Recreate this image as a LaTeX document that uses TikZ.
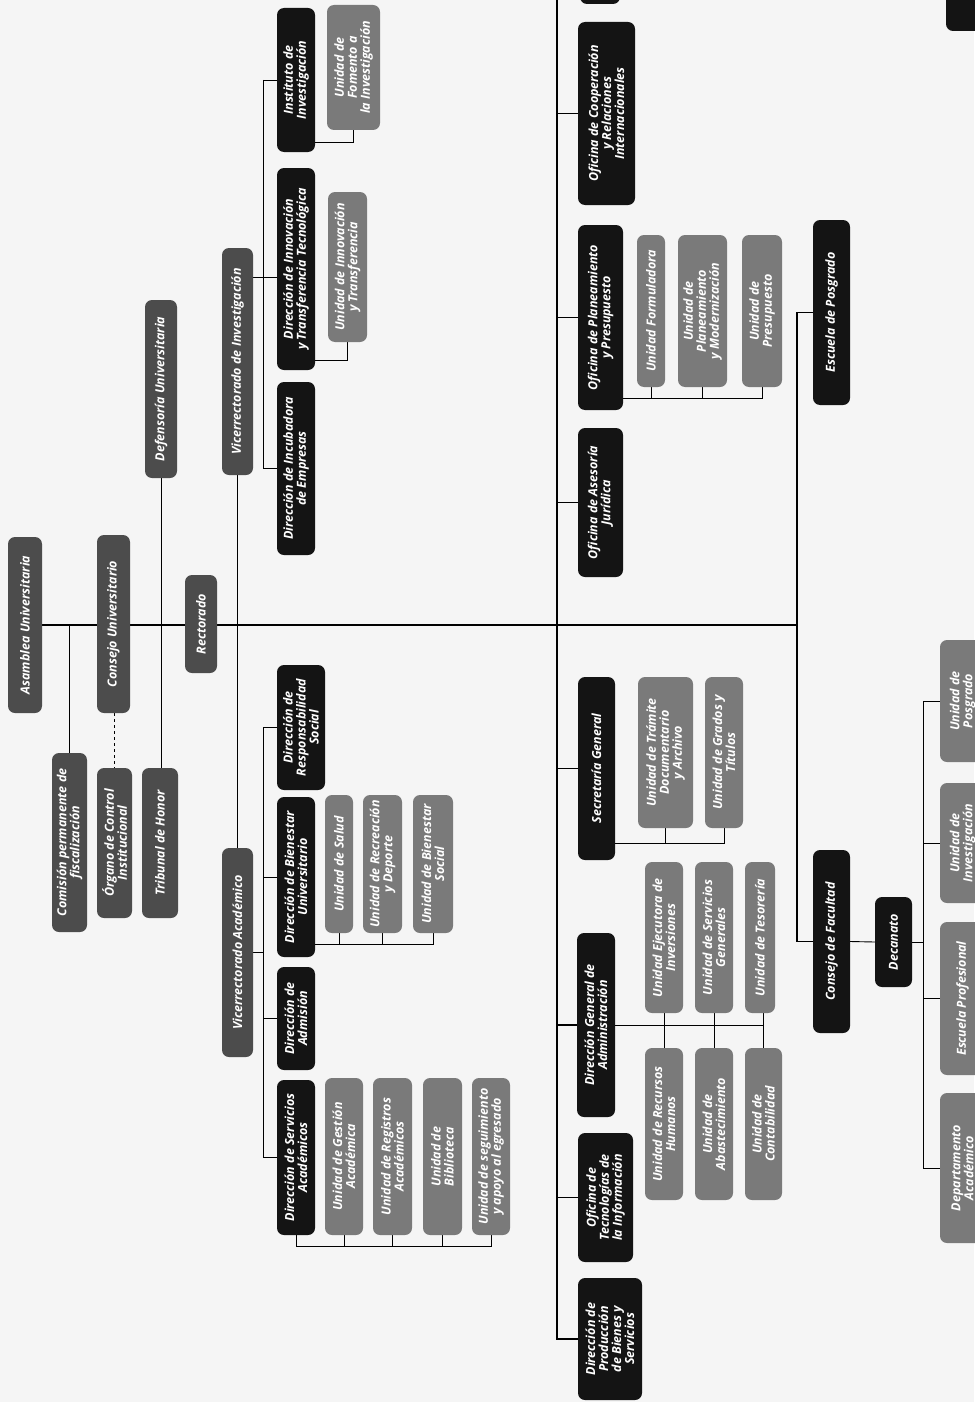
\documentclass[tikz,border=0pt]{standalone}
\usepackage{fontspec}
\setmainfont{Open Sans}
\usetikzlibrary{calc}
\pgfdeclarelayer{bg}
\pgfsetlayers{bg,main}
\newcommand\orgbox[7]{%
  \pgfmathsetmacro\obcx{(#3+#5)/2}%
  \pgfmathsetmacro\obcy{(#4+#6)/2}%
  \pgfmathsetmacro\obww{#6-#4}%
  \pgfmathsetmacro\obhh{#5-#3}%
  \node[#2,rotate=90,minimum width=\obww pt,minimum height=\obhh pt] (#1) at (\obcx,\obcy) {#7};}
\tikzset{
  base/.style={rounded corners=7pt,text=white,align=center,inner sep=1pt,
    font=\fontsize{12.5}{13}\selectfont\bfseries\itshape},
  blk/.style={base,fill=black!92},
  dgr/.style={base,fill=black!70},
  mgr/.style={base,fill=black!52},
  spine/.style={line width=1.3pt,black},
  link/.style={line width=0.9pt,black}
}
\begin{document}
\begin{tikzpicture}[x=1pt,y=-1pt]
\useasboundingbox (0,0) rectangle (974,1402);
% top section
\orgbox{instituto}{blk}{277}{8}{315}{152}{Instituto de\\Investigación}
\orgbox{innov}{blk}{277}{168}{315}{370}{Dirección de Innovación\\y Transferencia Tecnológica}
\orgbox{incub}{blk}{277}{382}{315}{555}{Dirección de Incubadora\\de Empresas}
\orgbox{vri}{dgr}{222}{248}{253}{475}{Vicerrectorado de Investigación}
\orgbox{defen}{dgr}{145}{300}{177}{478}{Defensoría Universitaria}
\orgbox{asamb}{dgr}{8}{537}{42}{713}{Asamblea Universitaria}
\orgbox{consejo}{dgr}{97}{535}{130}{713}{Consejo Universitario}
\orgbox{rect}{dgr}{185}{575}{217}{673}{Rectorado}
\orgbox{ufom}{mgr}{327}{5}{380}{130}{Unidad de\\Fomento a\\la Investigación}
\orgbox{uinn}{mgr}{328}{192}{367}{342}{Unidad de Innovación\\y Transferencia}
\orgbox{resp}{blk}{277}{665}{325}{790}{Dirección de\\Responsabilidad\\Social}
\orgbox{comis}{dgr}{52}{753}{87}{932}{Comisión permanente de\\fiscalización}
\orgbox{organo}{dgr}{97}{768}{132}{918}{Órgano de Control\\Institucional}
\orgbox{trib}{dgr}{142}{768}{178}{918}{Tribunal de Honor}
\orgbox{vra}{dgr}{222}{848}{253}{1057}{Vicerrectorado Académico}
\orgbox{bien}{blk}{277}{797}{315}{957}{Dirección de Bienestar\\Universitario}
\orgbox{adm}{blk}{277}{967}{315}{1070}{Dirección de\\Admisión}
\orgbox{serv}{blk}{277}{1080}{315}{1235}{Dirección de Servicios\\Académicos}
\orgbox{usal}{mgr}{325}{795}{353}{933}{Unidad de Salud}
\orgbox{urec}{mgr}{363}{795}{402}{933}{Unidad de Recreación\\y Deporte}
\orgbox{ubs}{mgr}{413}{795}{453}{933}{Unidad de Bienestar\\Social}
\orgbox{ugest}{mgr}{325}{1078}{363}{1235}{Unidad de Gestión\\Académica}
\orgbox{ureg}{mgr}{373}{1078}{412}{1235}{Unidad de Registros\\Académicos}
\orgbox{ubib}{mgr}{423}{1078}{462}{1235}{Unidad de\\Biblioteca}
\orgbox{useg}{mgr}{472}{1078}{510}{1235}{Unidad de seguimiento\\y apoyo al egresado}
% right section
\fill[black!92,rounded corners=7pt] (580,-40) rectangle (620,4);
\fill[black!92,rounded corners=7pt] (946,-40) rectangle (1000,31);
\orgbox{coop}{blk}{578}{22}{635}{205}{Oficina de Cooperación\\y Relaciones\\Internacionales}
\orgbox{plan}{blk}{578}{225}{623}{410}{Oficina de Planeamiento\\y Presupuesto}
\orgbox{uform}{mgr}{637}{235}{665}{387}{Unidad Formuladora}
\orgbox{uplan}{mgr}{678}{235}{727}{387}{Unidad de\\Planeamiento\\y Modernización}
\orgbox{upres}{mgr}{742}{235}{782}{387}{Unidad de\\Presupuesto}
\orgbox{posg}{blk}{813}{220}{850}{405}{Escuela de Posgrado}
\orgbox{asesor}{blk}{578}{428}{623}{577}{Oficina de Asesoría\\Jurídica}
\orgbox{secg}{blk}{578}{677}{615}{860}{Secretaría General}
\orgbox{utram}{mgr}{638}{677}{693}{828}{Unidad de Trámite\\Documentario\\y Archivo}
\orgbox{ugrad}{mgr}{705}{677}{743}{828}{Unidad de Grados y\\Títulos}
\orgbox{dga}{blk}{577}{933}{615}{1117}{Dirección General de\\Administración}
\orgbox{ueje}{mgr}{645}{862}{683}{1013}{Unidad Ejecutora de\\Inversiones}
\orgbox{userv}{mgr}{695}{862}{733}{1013}{Unidad de Servicios\\Generales}
\orgbox{utes}{mgr}{745}{862}{775}{1013}{Unidad de Tesorería}
\orgbox{urrhh}{mgr}{645}{1048}{683}{1200}{Unidad de Recursos\\Humanos}
\orgbox{uabas}{mgr}{695}{1048}{733}{1200}{Unidad de\\Abastecimiento}
\orgbox{ucont}{mgr}{745}{1048}{782}{1200}{Unidad de\\Contabilidad}
\orgbox{otic}{blk}{578}{1133}{633}{1262}{Oficina de\\Tecnologías de\\la Información}
\orgbox{prod}{blk}{578}{1278}{642}{1400}{Dirección de\\Producción\\de Bienes y\\Servicios}
\orgbox{cfac}{blk}{813}{850}{850}{1033}{Consejo de Facultad}
\orgbox{dec}{blk}{875}{897}{912}{987}{Decanato}
\orgbox{uposg}{mgr}{940}{640}{985}{762}{Unidad de\\Posgrado}
\orgbox{uinv}{mgr}{940}{783}{985}{903}{Unidad de\\Investigación}
\orgbox{eprof}{mgr}{940}{922}{985}{1075}{Escuela Profesional}
\orgbox{dept}{mgr}{940}{1093}{985}{1243}{Departamento\\Académico}
\begin{pgfonlayer}{bg}
\fill[black!4] (0,0) rectangle (974,1402);
\coordinate (pbus) at (797,0);
\coordinate (rtop) at (557,0);
\coordinate (vbus) at (263,0);
\coordinate (fbus) at (923,0);
% spine
\draw[spine] (asamb.south) -- (asamb.south -| pbus);
\draw[spine] (comis.east |- asamb.south) -- (comis.east);
\draw[link,dashed] (organo.east |- consejo.west) -- (organo.east);
\draw[link] (defen.west) -- (defen.west |- trib.east);
\draw[spine] (vri.west) -- (vra.east);
\draw[spine] (rtop) -- (rtop |- prod.north) -- (prod.north);
\foreach \n in {coop,plan,asesor,secg,dga,otic} \draw[spine] (\n.north -| rtop) -- (\n.north);
% VRI
\draw[link] (instituto.north -| vbus) -- (incub.north -| vbus);
\draw[link] (instituto.north -| vbus) -- (instituto.north);
\draw[link] ([yshift=-8pt]innov.north -| vri.south) -- ([yshift=-8pt]innov.north);
\draw[link] (incub.north -| vbus) -- (incub.north);
\draw[link] ([yshift=10pt]instituto.south west) -| (ufom.west);
\draw[link] ([yshift=10pt]innov.south west) -| (uinn.west);
% VRA
\draw[link] (resp.north -| vbus) -- (serv.north -| vbus);
\foreach \n in {resp,bien,adm,serv} \draw[link] (\n.north -| vbus) -- (\n.north);
\draw[link] (vra.south) -- (vra.south -| vbus);
\coordinate (bb) at ([yshift=13pt]bien.south west);
\draw[link] (bb) -- (bb -| ubs.west) -- (ubs.west);
\draw[link] (usal.west) -- (usal.west |- bb);
\draw[link] (urec.west) -- (urec.west |- bb);
\coordinate (sb) at ([yshift=-11pt]serv.west);
\draw[link] (serv.west) -- (sb) -- (sb -| useg.west) -- (useg.west);
\foreach \n in {ugest,ureg,ubib} \draw[link] (\n.west) -- (\n.west |- sb);
% Planeamiento
\coordinate (pb) at ([yshift=12pt]plan.south west);
\draw[link] (pb) -- (pb -| upres.west) -- (upres.west);
\foreach \n in {uform,uplan} \draw[link] (\n.west) -- (\n.west |- pb);
% Secretaria
\coordinate (gb) at ([yshift=17pt]secg.south west);
\draw[link] (gb) -- (gb -| ugrad.west) -- (ugrad.west);
\draw[link] (utram.west) -- (utram.west |- gb);
% DGA
\draw[link] (dga.south) -- (dga.south -| ucont.east);
\draw[link] (ueje.west) -- (urrhh.east);
\draw[link] (userv.west) -- (uabas.east);
\draw[link] (ucont.east |- utes.west) -- (ucont.east);
% Facultad
\draw[spine] (posg.north) -- (posg.north -| pbus) -- (cfac.north -| pbus) -- (cfac.north);
\draw[link] (cfac.south) -- (dec.north);
\draw[link] (dec.south) -- (dec.south -| fbus);
\draw[link] (uposg.north -| fbus) -- (dept.north -| fbus);
\foreach \n in {uposg,uinv,eprof,dept} \draw[link] (\n.north -| fbus) -- (\n.north);
\end{pgfonlayer}
\end{tikzpicture}
\end{document}
